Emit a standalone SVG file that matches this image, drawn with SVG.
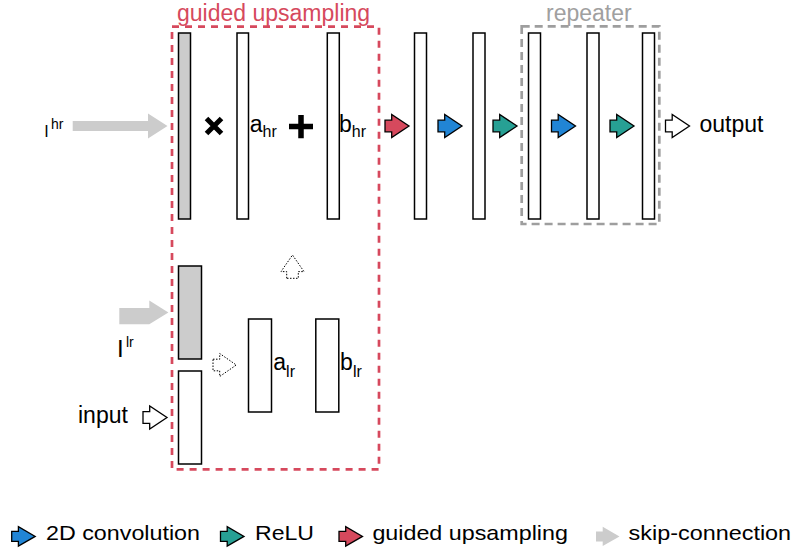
<svg xmlns="http://www.w3.org/2000/svg" width="793" height="550" viewBox="0 0 793 550">
<style>
text{font-family:"Liberation Sans",Arial,sans-serif;fill:#000}
.main{font-size:23px}
.sub{font-size:16px}
.layer{fill:#fff;stroke:#000;stroke-width:1.5}
.glayer{fill:#cccccc;stroke:#000;stroke-width:1.5}
.arr{stroke:#000;stroke-width:1.3;stroke-linejoin:miter}
.dot{fill:#fff;stroke:#000;stroke-width:1;stroke-dasharray:1.5 1.5}
.leg{font-size:21px}
</style>
<defs>
<path id="ba" d="M0,-5.8 H6.7 V-11.5 L24,0 L6.7,11.5 V5.8 H0 Z"/>
<path id="bl" d="M0,-5 H6.7 V-9.7 L23.5,0 L6.7,9.7 V5 H0 Z"/>
</defs>

<g id="guided-box">
<rect x="172" y="26.7" width="207" height="442.6" fill="none" stroke="#d6495d" stroke-width="2.7" stroke-dasharray="7 6"/>
<text x="177" y="21" class="main" style="fill:#d6495d">guided upsampling</text>
</g>
<g id="repeater-box">
<rect x="521.7" y="26.3" width="137.6" height="197.7" fill="none" stroke="#9e9e9e" stroke-width="2.7" stroke-dasharray="8 5"/>
<text x="546" y="21" class="main" style="fill:#a0a0a0">repeater</text>
</g>

<g id="Ihr-label">
<text x="44.2" y="136.7" style="font-size:16px">I</text>
<text x="51" y="129" style="font-size:14px">hr</text>
</g>
<g id="Ilr-label">
<text x="117" y="356.7" style="font-size:24px">I</text>
<text x="126" y="347.3" style="font-size:14px">lr</text>
</g>

<g id="guide-hr"><rect x="178.5" y="33" width="12" height="186" class="glayer"/></g>
<g id="a-hr"><rect x="237" y="33" width="11.5" height="186" class="layer"/>
<text x="249.7" y="131.7" class="main">a<tspan class="sub" dy="5.3">hr</tspan></text></g>
<g id="b-hr"><rect x="327.3" y="33" width="12" height="186" class="layer"/>
<text x="339" y="131.7" class="main">b<tspan class="sub" dy="5.3">hr</tspan></text></g>
<g id="times"><path d="M206.5,118.5 L221.5,133.5 M221.5,118.5 L206.5,133.5" stroke="#000" stroke-width="5" fill="none"/></g>
<g id="plus"><path d="M289,126.5 H313 M301,115 V138.3" stroke="#000" stroke-width="5.5" fill="none"/></g>

<g id="guide-lr"><rect x="178.5" y="266" width="23" height="93" class="glayer"/></g>
<g id="input-lr"><rect x="178.5" y="371" width="23" height="93" class="layer"/></g>
<g id="a-lr"><rect x="248.5" y="319" width="23" height="93" class="layer"/>
<text x="273.3" y="370" class="main">a<tspan class="sub" dy="6.5">lr</tspan></text></g>
<g id="b-lr"><rect x="315.8" y="319" width="23" height="93" class="layer"/>
<text x="340.1" y="370" class="main">b<tspan class="sub" dy="6.5">lr</tspan></text></g>

<g id="l1"><rect x="414.5" y="33" width="12" height="186" class="layer"/></g>
<g id="l2"><rect x="473" y="33" width="12" height="186" class="layer"/></g>
<g id="l3"><rect x="528.5" y="33" width="12" height="186" class="layer"/></g>
<g id="l4"><rect x="587" y="33" width="12" height="186" class="layer"/></g>
<g id="l5"><rect x="642.5" y="33" width="12" height="186" class="layer"/></g>

<g id="output"><text x="699.5" y="132" class="main">output</text></g>
<g id="input"><text x="78" y="423.3" class="main">input</text></g>

<g id="connectors">
<polygon points="72.7,121 148,121 148,113.5 167.5,126 148,138.5 148,131 72.7,131" fill="#cccccc"/>
<polygon points="119.3,308 149.3,308 149.3,300.5 168.4,312.4 149.3,324.3 119.3,324.3" fill="#cccccc"/>
<use href="#ba" transform="translate(143,417.5)" class="arr" fill="#fff"/>
<use href="#ba" transform="translate(385,126)" class="arr" fill="#d6495d"/>
<use href="#ba" transform="translate(438,126)" class="arr" fill="#2185d5"/>
<use href="#ba" transform="translate(493,126)" class="arr" fill="#27a094"/>
<use href="#ba" transform="translate(551.5,126)" class="arr" fill="#2185d5"/>
<use href="#ba" transform="translate(610,126)" class="arr" fill="#27a094"/>
<use href="#ba" transform="translate(665.5,126)" class="arr" fill="#fff"/>
<path d="M0,-5.8 H6.7 V-11.5 L23.3,0 L6.7,11.5 V5.8 H0 Z" transform="translate(213,365)" class="dot"/>
<path d="M0,-5.8 H6.7 V-11.5 L23.3,0 L6.7,11.5 V5.8 H0 Z" transform="translate(292.5,278.3) rotate(-90)" class="dot"/>
</g>

<g id="legend">
<use href="#bl" transform="translate(11.7,536.4)" class="arr" fill="#2185d5"/>
<text x="46" y="540" class="leg" textLength="154" lengthAdjust="spacingAndGlyphs">2D convolution</text>
<use href="#bl" transform="translate(220.5,536.4)" class="arr" fill="#27a094"/>
<text x="255" y="540" class="leg" textLength="59" lengthAdjust="spacingAndGlyphs">ReLU</text>
<use href="#bl" transform="translate(339,536.4)" class="arr" fill="#d6495d"/>
<text x="372.4" y="540" class="leg" textLength="195.5" lengthAdjust="spacingAndGlyphs">guided upsampling</text>
<use href="#bl" transform="translate(596,536.4)" fill="#cccccc"/>
<text x="628.6" y="540" class="leg" textLength="162.5" lengthAdjust="spacingAndGlyphs">skip-connection</text>
</g>
</svg>
